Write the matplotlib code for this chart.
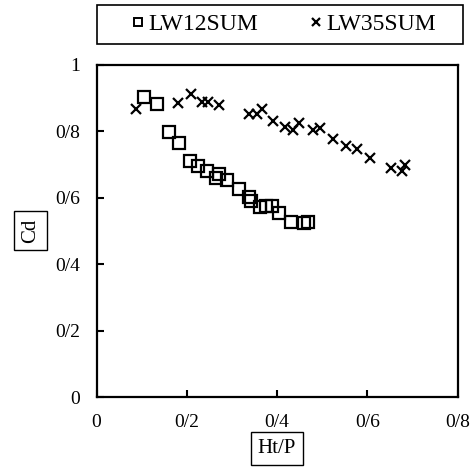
import matplotlib
matplotlib.use('Agg')
import matplotlib.pyplot as plt
from matplotlib.patches import Rectangle

# LW12SUM (squares)
x_lw12 = [0.106, 0.133, 0.161, 0.182, 0.207, 0.226, 0.244, 0.265, 0.272, 0.289,
          0.315, 0.339, 0.343, 0.362, 0.376, 0.389, 0.404, 0.430, 0.460, 0.468]
y_lw12 = [0.903, 0.882, 0.797, 0.764, 0.709, 0.694, 0.681, 0.658, 0.671, 0.652,
          0.627, 0.603, 0.591, 0.573, 0.575, 0.575, 0.555, 0.528, 0.523, 0.527]

# LW35SUM (crosses)
x_lw35 = [0.088, 0.181, 0.209, 0.233, 0.248, 0.272, 0.339, 0.355, 0.366, 0.392, 0.418,
          0.436, 0.449, 0.480, 0.495, 0.525, 0.553, 0.577, 0.606, 0.653, 0.678, 0.684]
y_lw35 = [0.866, 0.885, 0.913, 0.889, 0.889, 0.879, 0.852, 0.851, 0.866, 0.831, 0.814,
          0.804, 0.826, 0.803, 0.810, 0.776, 0.756, 0.745, 0.720, 0.689, 0.679, 0.699]

x_ticks = [0, 0.2, 0.4, 0.6, 0.8]
x_tick_labels = ['0', '0/2', '0/4', '0/6', '0/8']
y_ticks = [0, 0.2, 0.4, 0.6, 0.8, 1.0]
y_tick_labels = ['0', '0/2', '0/4', '0/6', '0/8', '1']

plt.rcParams['font.family'] = ['Liberation Serif', 'DejaVu Serif']
plt.rcParams['font.size'] = 14

W, H = 475, 470
fig = plt.figure(figsize=(W / 100, H / 100), dpi=100)
ax = fig.add_axes([96.5 / W, 1 - 397 / H, 361 / W, 332.3 / H])

ax.plot(x_lw12, y_lw12, linestyle='none', marker='s', markersize=8.5,
        markerfacecolor='none', markeredgecolor='black', markeredgewidth=1.6,
        label='LW12SUM')
ax.plot(x_lw35, y_lw35, linestyle='none', marker='x', markersize=7,
        color='black', markeredgewidth=1.6, label='LW35SUM')

ax.set_xlim(0, 0.8)
ax.set_ylim(0, 1)
ax.set_xticks(x_ticks)
ax.set_xticklabels(x_tick_labels)
ax.set_yticks(y_ticks)
ax.set_yticklabels(y_tick_labels)
ax.tick_params(direction='in', length=5, width=1.5, pad=12, labelsize=14)
for s in ax.spines.values():
    s.set_linewidth(1.6)

box = dict(boxstyle='square,pad=0.35', facecolor='white', edgecolor='black', linewidth=1)
ax.set_xlabel('Ht/P', bbox=box, fontsize=15)
ax.set_ylabel('Cd', bbox=box, fontsize=15)
ax.xaxis.set_label_coords(0.5, -0.126)
ax.yaxis.set_label_coords(-0.157, 0.5)

# legend frame drawn as a rectangle above the axes
fig.patches.append(Rectangle((96.7 / W, 1 - 44 / H), 366 / W, 39 / H,
                             transform=fig.transFigure, fill=False,
                             edgecolor='black', linewidth=1.2))
leg = fig.legend(loc='center', bbox_to_anchor=(284 / W, 1 - 24.5 / H), ncol=2,
                 frameon=False, handlelength=0.5, handletextpad=0.2,
                 columnspacing=2.2, fontsize=17)
leg.legend_handles[0].set_markersize(6)
leg.legend_handles[0].set_markeredgewidth(1.4)
leg.legend_handles[1].set_markersize(6)
leg.legend_handles[1].set_markeredgewidth(1.6)

fig.savefig('out.png', dpi=100)
